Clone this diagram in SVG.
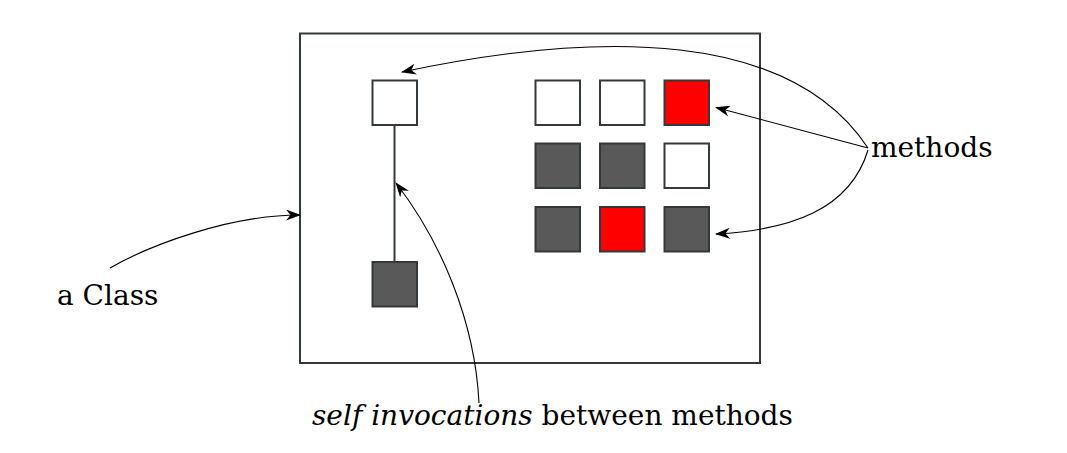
<svg xmlns="http://www.w3.org/2000/svg" width="1067" height="453" viewBox="0 0 1067 453">
<style>
.sq{stroke:#35383b;stroke-width:2}
.w{fill:#ffffff}.d{fill:#595959}.r{fill:#ff0000}
.c{fill:none;stroke:#000;stroke-width:1.1;marker-end:url(#ah)}
.t{font-family:"DejaVu Serif","Liberation Serif",serif;font-size:28px;fill:#000}
</style>
<defs>
<marker id="ah" markerUnits="userSpaceOnUse" markerWidth="16" markerHeight="11" refX="14" refY="5" orient="auto" viewBox="0 0 16 10" preserveAspectRatio="none">
<path d="M0,0 L15,5 L0,10 L4.5,5 z" fill="#000"/>
</marker>
</defs>
<rect width="1067" height="453" fill="#fff"/>
<g id="class-box"><rect x="300" y="33.5" width="460" height="329.5" fill="none" stroke="#35383b" stroke-width="2"/></g>
<g id="self-call"><line x1="394.5" y1="125" x2="394.5" y2="262" stroke="#35383b" stroke-width="2"/></g>
<g id="m-top"><rect class="sq w" x="372.5" y="80.5" width="44.5" height="44.5"/></g>
<g id="m-bottom"><rect class="sq d" x="372.5" y="262" width="44.5" height="44.5"/></g>
<g id="m11"><rect class="sq w" x="535.5" y="80.5" width="44.5" height="44.5"/></g>
<g id="m12"><rect class="sq w" x="600" y="80.5" width="44.5" height="44.5"/></g>
<g id="m13"><rect class="sq r" x="664.5" y="80.5" width="44.5" height="44.5"/></g>
<g id="m21"><rect class="sq d" x="535.5" y="143.5" width="44.5" height="44.5"/></g>
<g id="m22"><rect class="sq d" x="600" y="143.5" width="44.5" height="44.5"/></g>
<g id="m23"><rect class="sq w" x="664.5" y="143.5" width="44.5" height="44.5"/></g>
<g id="m31"><rect class="sq d" x="535.5" y="207" width="44.5" height="44.5"/></g>
<g id="m32"><rect class="sq r" x="600" y="207" width="44.5" height="44.5"/></g>
<g id="m33"><rect class="sq d" x="664.5" y="207" width="44.5" height="44.5"/></g>
<g id="connectors">
<path class="c" d="M868,148 C790,30 600,30 402,72"/>
<path class="c" d="M868,148 L716,107.5"/>
<path class="c" d="M868,150 C850,210 790,230 716,234"/>
<path class="c" d="M110,268 C150,245 230,215 300,215"/>
<path class="c" d="M479,403 C475,320 440,240 396,183"/>
</g>
<g id="labels">
<text class="t" x="871" y="157">methods</text>
<text class="t" x="57" y="305">a Class</text>
<text class="t" x="312" y="425"><tspan font-style="italic">self invocations</tspan> between methods</text>
</g>
</svg>
